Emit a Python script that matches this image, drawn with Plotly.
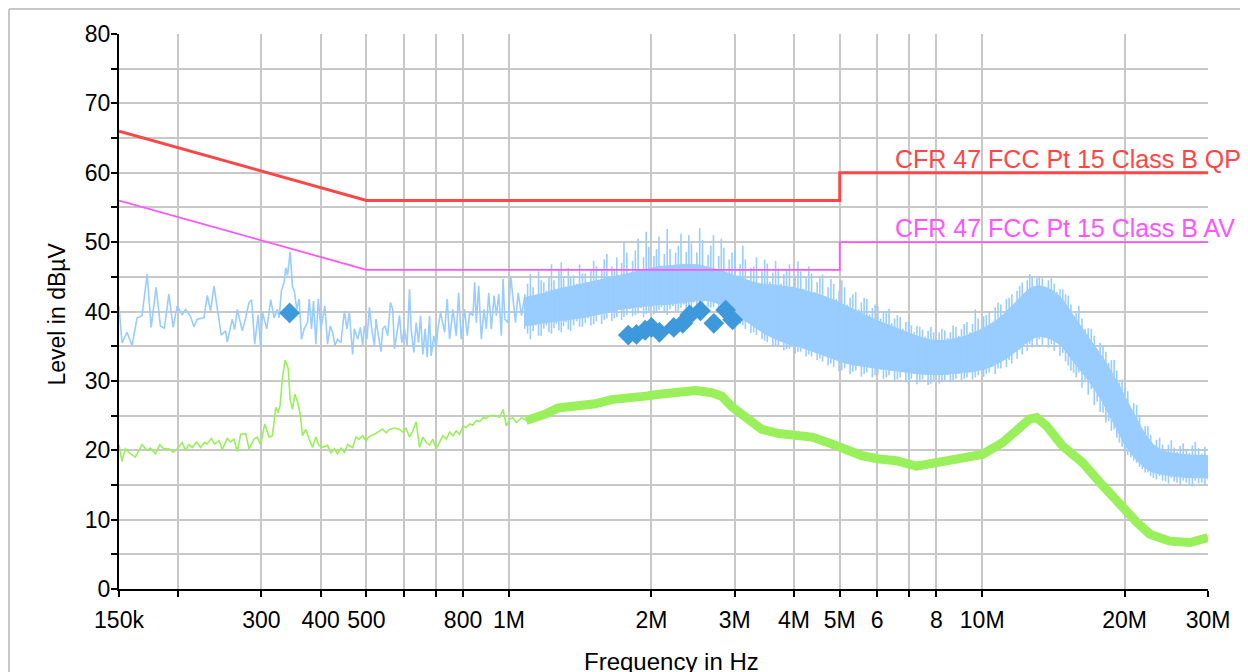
import plotly.graph_objects as go

# ---------------- data ----------------
# Peak detector trace, low-frequency part (kHz, dBuV)
pk_khz = [150, 152.2, 156.0, 159.8, 163.8, 167.8, 172.0, 175.4, 179.7, 183.5,
          187.1, 191.2, 195.2, 199.1, 204, 207.3, 212.4, 216, 219.5, 226.8,
          230.4, 234.2, 238.1, 246.7, 252, 254, 260.3, 263.3, 266.7, 273.3,
          277.8, 282.4, 286, 290.3, 295.1, 298.9, 301.4, 307.8, 313.8, 319,
          324.2, 327, 330.6, 335, 337.6, 340.5, 345, 348.9, 351.8, 356.3,
          360.4, 364.5, 369.3, 375.3, 378.5, 382.7, 386.5, 390.9, 395.5, 400.5,
          403.8, 408.4, 413.8, 419.3, 424, 428.8, 434.5, 441.6, 449, 454.7,
          460, 467.5, 471.4, 479.1, 485.4, 490.9, 494.9, 501.3, 507.2, 512.9,
          519.7, 523.8, 529.9, 536.7, 541.2, 547.3, 554.6, 561.9, 568.2, 573,
          580.3, 587.1, 593.7, 601.6, 609.3, 616.5, 621.3, 629.6, 636.7, 644.2,
          650.4, 657.8, 665.2, 671.7, 679.6, 685, 694, 701.9, 707.7, 717.1,
          731.3, 740.6, 749.3, 761.5, 773.8, 782.9, 792.9, 806.2, 816.5, 826.1,
          839.5, 846.5, 853.2, 863.2, 874.2, 885.9, 895.8, 906.4, 918, 930.2,
          940.6, 951.7, 963.9, 971.9, 980, 995.9, 1009, 1020, 1032, 1046,
          1063, 1080]
pk_db = [40.8, 35.5, 37.0, 35.1, 39.1, 39.4, 45.4, 37.7, 43.5, 37.9,
         37.6, 42.5, 37.7, 40.8, 39.5, 40.3, 39.3, 37.8, 38.9, 39.1,
         42.3, 40.1, 43.7, 36.6, 37.2, 35.6, 38.9, 37.4, 40.3, 37.2,
         39.1, 41.3, 41.7, 35.3, 39.5, 34.8, 39.9, 37.5, 41.7, 39.1,
         40.3, 39.1, 43.0, 44.2, 46.3, 45.2, 48.6, 43.5, 43.0, 40.3,
         41.8, 36.0, 37.5, 38.4, 41.8, 37.5, 41.5, 35.3, 41.8, 37.5,
         38.9, 40.8, 35.3, 37.9, 37.0, 35.1, 36.0, 35.5, 40.1, 37.5,
         39.9, 33.8, 37.5, 36.0, 37.7, 35.1, 37.9, 36.0, 40.6, 37.5,
         35.1, 38.9, 36.5, 34.2, 37.5, 37.9, 36.5, 41.3, 40.3, 34.6,
         37.0, 39.4, 35.5, 37.5, 35.1, 43.2, 37.5, 34.1, 38.4, 35.5,
         39.4, 33.8, 37.5, 33.4, 39.4, 33.6, 36.5, 34.8, 37.5, 39.9,
         37.0, 41.8, 36.0, 40.3, 36.5, 42.7, 36.0, 40.3, 36.5, 39.9,
         39.4, 44.2, 38.4, 43.7, 36.0, 40.3, 37.5, 42.7, 37.5, 42.3,
         39.4, 42.5, 36.5, 44.7, 38.9, 38.4, 45.1, 42.3, 38.4, 42.7,
         39.4, 42.3]

# Peak detector trace, dense part (MHz, dBuV): solid core and spike extents
band_mhz = [1.08, 1.11, 1.14, 1.17, 1.20, 1.23, 1.26, 1.29, 1.32, 1.35,
            1.39, 1.43, 1.47, 1.51, 1.55, 1.59, 1.63, 1.67, 1.71, 1.75,
            1.80, 1.85, 1.90, 1.95, 2.00, 2.05, 2.10, 2.16, 2.22, 2.28,
            2.34, 2.40, 2.46, 2.53, 2.60, 2.67, 2.74, 2.81, 2.88, 2.96,
            3.04, 3.12, 3.20, 3.29, 3.38, 3.47, 3.56, 3.66, 3.76, 3.86,
            3.97, 4.08, 4.19, 4.30, 4.42, 4.54, 4.66, 4.79, 4.92, 5.05,
            5.19, 5.33, 5.48, 5.63, 5.78, 5.94, 6.10, 6.27, 6.44, 6.62,
            6.80, 6.99, 7.18, 7.38, 7.58, 7.79, 8.00, 8.22, 8.45, 8.68,
            8.92, 9.16, 9.41, 9.67, 9.94, 10.2, 10.5, 10.8, 11.1, 11.4,
            11.7, 12.0, 12.3, 12.6, 12.9, 13.2, 13.6, 14.0, 14.4, 14.8,
            15.2, 15.6, 16.0, 16.5, 17.0, 17.5, 18.0, 18.5, 19.0, 19.5,
            20.0, 20.6, 21.2, 21.8, 22.4, 23.0, 23.7, 24.4, 25.1, 25.8,
            26.6, 27.4, 28.2, 29.1, 30.0]
band_top = [42.0, 42.2, 42.3, 42.5, 42.7, 43.0, 43.2, 43.3, 43.5, 43.6,
            43.8, 44.0, 44.2, 44.3, 44.5, 44.7, 44.9, 45.0, 45.2, 45.3,
            45.5, 45.7, 45.9, 46.1, 46.3, 46.4, 46.5, 46.6, 46.7, 46.8,
            46.8, 46.8, 46.8, 46.7, 46.5, 46.3, 46.1, 45.9, 45.6, 45.3,
            45.0, 44.7, 44.4, 44.2, 44.0, 44.0, 43.9, 43.8, 43.7, 43.6,
            43.5, 43.3, 43.1, 42.9, 42.6, 42.4, 42.1, 41.8, 41.5, 41.1,
            40.7, 40.3, 39.9, 39.5, 39.1, 38.8, 38.5, 38.2, 37.8, 37.5,
            37.2, 36.9, 36.6, 36.3, 36.1, 35.9, 35.8, 35.8, 35.9, 36.0,
            36.2, 36.4, 36.7, 37.0, 37.4, 37.8, 38.3, 38.9, 39.6, 40.4,
            41.2, 42.0, 42.7, 43.3, 43.6, 43.7, 43.5, 43.1, 42.5, 41.7,
            40.6, 39.4, 38.3, 37.0, 35.8, 34.5, 33.3, 32.0, 30.7, 29.3,
            27.8, 26.2, 24.5, 23.0, 21.8, 20.8, 20.2, 19.8, 19.6, 19.5,
            19.4, 19.3, 19.3, 19.3, 19.2]
band_bot = [38.0, 38.0, 38.2, 38.3, 38.4, 38.5, 38.6, 38.7, 38.8, 38.9,
            39.0, 39.1, 39.3, 39.4, 39.6, 39.8, 40.0, 40.1, 40.3, 40.4,
            40.5, 40.6, 40.7, 40.8, 40.9, 41.0, 41.0, 41.0, 41.1, 41.2,
            41.3, 41.4, 41.5, 41.6, 41.6, 41.5, 41.3, 41.0, 40.6, 40.1,
            39.5, 38.9, 38.3, 37.8, 37.3, 36.8, 36.4, 36.0, 35.7, 35.4,
            35.2, 35.0, 34.8, 34.5, 34.2, 33.9, 33.6, 33.3, 33.0, 32.7,
            32.5, 32.3, 32.1, 32.0, 31.9, 31.8, 31.7, 31.6, 31.5, 31.4,
            31.3, 31.2, 31.1, 31.0, 31.0, 30.9, 30.9, 30.9, 31.0, 31.0,
            31.1, 31.2, 31.3, 31.4, 31.6, 31.8, 32.1, 32.5, 33.0, 33.5,
            34.1, 34.7, 35.3, 35.8, 36.2, 36.4, 36.3, 36.0, 35.5, 34.8,
            33.8, 32.8, 31.8, 30.7, 29.5, 28.2, 26.8, 25.3, 23.8, 22.3,
            20.8, 19.6, 18.6, 17.8, 17.2, 16.8, 16.6, 16.4, 16.3, 16.2,
            16.1, 16.0, 16.0, 16.0, 16.0]
band_hi = [42.5, 45.4, 42.0, 44.5, 43.0, 46.8, 43.2, 47.1, 43.5, 45.0,
           44.0, 45.5, 44.2, 47.3, 44.5, 47.5, 45.0, 46.0, 45.2, 50.0,
           45.5, 48.8, 45.8, 51.5, 46.0, 49.0, 46.2, 51.9, 46.5, 49.5,
           46.5, 51.0, 46.5, 52.0, 46.2, 49.5, 46.0, 50.5, 45.8, 48.5,
           45.2, 49.5, 44.5, 46.5, 44.0, 47.5, 44.3, 47.3, 44.0, 46.0,
           43.6, 47.2, 43.3, 46.5, 42.8, 45.0, 42.2, 44.7, 41.8, 44.5,
           41.0, 42.5, 40.3, 42.0, 39.6, 41.0, 39.0, 40.0, 38.3, 39.5,
           37.5, 38.5, 37.0, 37.8, 36.4, 37.8, 36.0, 37.5, 36.2, 38.0,
           36.5, 38.2, 37.0, 40.3, 37.5, 39.5, 38.3, 41.3, 39.5, 42.0,
           41.0, 43.7, 42.5, 45.4, 43.5, 45.1, 43.5, 44.8, 42.8, 43.2,
           42.3, 39.4, 40.8, 37.5, 37.5, 34.6, 35.0, 32.6, 33.0, 29.8,
           29.0, 25.9, 26.5, 23.0, 23.5, 20.6, 21.8, 20.0, 21.5, 19.8,
           21.0, 19.6, 21.2, 19.5, 19.2]
band_lo = [37.5, 36.0, 38.0, 36.5, 38.0, 36.8, 38.2, 37.0, 38.5, 37.2,
           38.6, 37.8, 39.0, 38.2, 39.6, 38.8, 40.0, 39.0, 40.3, 39.2,
           40.3, 39.5, 40.5, 39.6, 40.6, 39.8, 40.6, 39.5, 40.8, 40.0,
           41.0, 40.2, 41.3, 40.5, 41.5, 40.6, 41.3, 40.0, 40.8, 39.5,
           40.0, 38.0, 38.6, 37.0, 37.5, 35.8, 36.5, 35.0, 35.8, 34.6,
           35.3, 34.2, 35.0, 33.8, 34.5, 33.2, 34.0, 32.5, 33.2, 31.5,
           32.5, 31.3, 32.2, 31.0, 32.0, 30.8, 31.6, 30.5, 31.5, 30.2,
           31.3, 29.5, 31.0, 29.8, 30.8, 29.6, 30.6, 29.8, 30.8, 30.0,
           31.0, 30.3, 31.2, 30.5, 31.5, 31.0, 32.0, 31.8, 33.0, 33.0,
           34.3, 34.5, 35.5, 35.3, 36.3, 36.0, 36.3, 35.3, 35.5, 34.0,
           32.2, 31.2, 31.2, 29.8, 28.8, 27.0, 25.4, 24.2, 23.0, 21.1,
           19.7, 19.0, 18.2, 17.3, 16.8, 16.0, 16.3, 15.5, 16.0, 15.3,
           15.6, 15.0, 15.6, 15.3, 15.8]

# Peak detector trace, dense part: sweep points in between (MHz, max, min dBuV)
band2_mhz = [1.095, 1.125, 1.155, 1.185, 1.215, 1.245, 1.275, 1.305, 1.335, 1.37,
             1.41, 1.45, 1.49, 1.53, 1.57, 1.61, 1.65, 1.69, 1.73, 1.775,
             1.825, 1.875, 1.925, 1.975, 2.025, 2.075, 2.13, 2.19, 2.25, 2.31,
             2.37, 2.43, 2.495, 2.565, 2.635, 2.705, 2.775, 2.845, 2.92, 3.0,
             3.08, 3.16, 3.245, 3.335, 3.425, 3.515, 3.61, 3.71, 3.81, 3.915,
             4.025, 4.135, 4.245, 4.36, 4.48, 4.6, 4.725, 4.855, 4.985, 5.12,
             5.26, 5.405, 5.555, 5.705, 5.86, 6.02, 6.185, 6.355, 6.53, 6.71,
             6.895, 7.085, 7.28, 7.48, 7.685, 7.895, 8.11, 8.335, 8.565, 8.8,
             9.04, 9.285, 9.54, 9.805, 10.07, 10.35, 10.65, 10.95, 11.25, 11.55,
             11.85, 12.15, 12.45, 12.75, 13.05, 13.4, 13.8, 14.2, 14.6, 15.0,
             15.4, 15.8, 16.25, 16.75, 17.25, 17.75, 18.25, 18.75, 19.25, 19.75,
             20.3, 20.9, 21.5, 22.1, 22.7, 23.35, 24.05, 24.75, 25.45, 26.2,
             27.0, 27.8, 28.65, 29.55]
band2_hi = [44.0, 43.5, 45.8, 44.2, 45.0, 44.5, 46.0, 44.8, 46.3, 45.2,
            46.8, 45.5, 46.0, 46.5, 46.0, 48.3, 46.5, 47.8, 47.0, 48.5,
            47.3, 50.5, 47.8, 49.3, 48.0, 50.8, 48.3, 49.0, 48.5, 51.2,
            48.6, 49.8, 48.5, 50.3, 48.2, 51.0, 48.0, 49.2, 47.5, 48.8,
            46.8, 47.5, 46.3, 47.8, 45.8, 46.9, 45.6, 46.2, 45.4, 46.8,
            45.2, 45.8, 44.8, 45.5, 44.2, 45.3, 43.5, 44.0, 43.0, 43.5,
            42.0, 42.8, 41.3, 41.8, 40.5, 40.8, 39.8, 40.4, 39.0, 39.2,
            38.5, 38.0, 37.9, 37.4, 37.2, 37.0, 37.0, 37.3, 37.0, 37.8,
            37.5, 38.5, 38.2, 39.0, 39.3, 40.0, 40.6, 41.0, 41.8, 42.5,
            43.0, 44.2, 44.5, 45.0, 44.8, 44.8, 44.5, 44.0, 43.2, 42.5,
            41.0, 39.8, 39.0, 37.6, 36.5, 35.5, 34.2, 33.0, 31.5, 30.2,
            28.5, 26.8, 25.0, 23.5, 22.2, 21.5, 20.8, 20.8, 20.4, 20.6,
            20.2, 20.7, 20.3, 20.5]
band2_lo = [36.8, 37.2, 36.5, 37.5, 37.0, 37.6, 37.3, 37.9, 37.4, 38.0,
            37.8, 38.3, 38.0, 38.6, 38.2, 39.0, 38.6, 39.2, 38.8, 39.5,
            39.3, 39.7, 39.2, 40.0, 39.6, 40.2, 39.8, 40.3, 40.0, 40.5,
            40.3, 40.7, 40.4, 40.9, 40.7, 40.6, 40.3, 40.2, 39.6, 39.0,
            38.2, 37.5, 36.9, 36.6, 36.0, 35.6, 35.0, 34.9, 34.4, 34.6,
            34.0, 34.2, 33.5, 33.5, 33.0, 32.8, 32.2, 32.0, 31.4, 31.8,
            31.0, 31.5, 30.6, 31.2, 30.5, 30.9, 30.3, 30.8, 29.9, 30.5,
            29.8, 30.3, 29.5, 30.2, 29.4, 30.0, 29.6, 30.1, 29.8, 30.3,
            30.0, 30.5, 30.2, 30.8, 30.6, 31.2, 31.0, 31.8, 32.0, 32.5,
            33.2, 33.8, 34.3, 34.8, 35.0, 35.2, 34.8, 34.3, 33.6, 32.8,
            31.5, 30.5, 29.0, 28.0, 26.5, 25.5, 24.0, 22.8, 21.8, 20.5,
            19.3, 18.5, 17.6, 16.8, 16.3, 15.8, 15.6, 15.2, 15.5, 15.1,
            15.3, 14.8, 15.2, 15.0]

# Average detector trace, low-frequency part (kHz, dBuV)
av_khz = [150, 152.2, 154.7, 158.5, 162.4, 167.8, 172.0, 174.8, 179.1, 183,
          186.6, 191.2, 195.2, 199.1, 204, 207.3, 210.8, 214.2, 218.7, 223,
          227.4, 230.4, 235, 238.8, 244, 247.9, 254, 258.2, 262.5, 266.7,
          271.1, 277.8, 282.4, 289.4, 294.1, 298.9, 304.8, 311.4, 316.4, 321.6,
          325.4, 328.5, 332.3, 336.7, 341.6, 345, 348.9, 352.8, 357.5, 362.2,
          366.3, 372.2, 378.5, 384.6, 390.9, 396, 403.8, 413.8, 420.5, 427.6,
          434.5, 441.6, 449, 456.2, 467.5, 475.1, 483, 490.9, 498.8, 507.2,
          519.7, 532.5, 541.2, 550, 559.1, 573, 587.1, 596.7, 606.3, 616.5,
          626.5, 636.7, 647.3, 657.8, 668.5, 679.6, 690.7, 701.9, 713.7, 725.3,
          737, 749.3, 761.5, 773.8, 786.8, 799.6, 812.5, 826.1, 839.5, 853.2,
          867.4, 881.5, 895.8, 910.8, 933.4, 956.4, 971.9, 987.7, 1004, 1020,
          1037, 1063, 1089]
av_db = [20.8, 18.4, 20.2, 19.5, 19.0, 20.8, 19.95, 20.3, 19.5, 20.8,
         20.2, 20.2, 19.7, 20.2, 21.1, 20.0, 20.8, 20.4, 21.2, 20.4,
         21.1, 20.9, 21.7, 20.9, 21.4, 20.1, 21.7, 21.2, 21.6, 19.8,
         22.3, 22.4, 20.2, 21.6, 21.9, 20.75, 23.8, 21.9, 22.1, 26.2,
         25.4, 26.5, 30.5, 33.0, 31.8, 27.3, 25.9, 28.1, 27.0, 25.2,
         22.1, 23.0, 21.6, 20.4, 21.9, 20.75, 20.4, 20.7, 19.6, 20.2,
         19.5, 20.3, 19.7, 20.8, 20.4, 21.9, 21.6, 22.1, 21.4, 22.0,
         22.3, 22.7, 23.05, 22.5, 23.0, 23.2, 23.0, 22.6, 23.15, 21.9,
         22.8, 24.1, 20.4, 21.9, 21.15, 20.75, 21.6, 20.2, 21.15, 22.1,
         21.6, 22.6, 22.1, 22.8, 22.3, 23.4, 23.3, 23.8, 23.6, 24.3,
         24.15, 24.7, 24.6, 25.0, 25.0, 24.75, 25.9, 23.5, 24.5, 24.7,
         24.0, 24.7, 24.3]

# Average detector trace, dense part (MHz, dBuV, centre of the band)
av2_mhz = [1.087, 1.153, 1.193, 1.271, 1.401, 1.522, 1.646, 1.788, 1.943, 2.101,
           2.283, 2.480, 2.682, 2.816, 2.956, 3.165, 3.422, 3.719, 4.040, 4.368,
           4.816, 5.157, 5.576, 6.058, 6.580, 7.254, 8.0, 9.08, 10.01, 11.04,
           11.82, 12.59, 13.03, 13.68, 14.79, 16.31, 17.98, 19.82, 21.22, 22.61,
           24.93, 27.49, 30.0]
av2_db = [24.3, 24.8, 25.2, 26.1, 26.3, 26.7, 27.3, 27.4, 27.8, 28.1,
          28.4, 28.6, 28.3, 27.8, 26.3, 24.7, 23.0, 22.4, 22.1, 21.9,
          20.9, 20.2, 19.2, 18.75, 18.5, 17.7, 18.2, 18.8, 19.4, 21.1,
          22.7, 24.5, 24.7, 23.5, 20.6, 18.2, 14.9, 11.5, 9.6, 7.9,
          6.9, 6.7, 7.4]

# Quasi-peak final measurements (MHz, dBuV)
qp_mhz = [0.344, 1.787, 1.86, 1.94, 2.0, 2.08, 2.23, 2.33, 2.41, 2.54, 2.71, 2.87, 2.97]
qp_db = [39.8, 36.6, 36.7, 37.3, 37.7, 37.0, 37.7, 38.3, 39.5, 40.1, 38.3, 40.2, 38.8]

# Limit lines (MHz, dBuV)
lim_mhz = [0.15, 0.5, 5.0, 5.0, 30.0]
lim_qp = [66, 56, 56, 60, 60]
lim_av = [56, 46, 46, 50, 50]
lim_qp_name = "CFR 47 FCC Pt 15 Class B QP"
lim_av_name = "CFR 47 FCC Pt 15 Class B AV"

x_tickvals_hz = [150e3, 200e3, 300e3, 400e3, 500e3, 600e3, 700e3, 800e3, 1e6,
                 2e6, 3e6, 4e6, 5e6, 6e6, 7e6, 8e6, 10e6, 20e6, 30e6]
x_ticktext = ["150k", "", "300", "400", "500", "", "", "800", "1M",
              "2M", "3M", "4M", "5M", "6", "", "8", "10M", "20M", "30M"]
y_tickvals = list(range(0, 81, 5))
y_ticktext = [str(v) if v % 10 == 0 else "" for v in y_tickvals]

# ---------------- figure ----------------
PEAK_C = "#99ccff"
AVG_C = "#99f05a"
QP_C = "#3d98dc"
RED = "#ff4646"
MAG = "#ff55ff"
FONT = "Liberation Sans, Arial, sans-serif"

fig = go.Figure()

# solid core of the dense peak sweep
core_x = [f * 1e6 for f in band_mhz] + [f * 1e6 for f in band_mhz[::-1]]
core_y = band_top + band_bot[::-1]
fig.add_trace(go.Scatter(x=core_x, y=core_y, mode="lines", fill="toself",
                         fillcolor=PEAK_C, line=dict(color=PEAK_C, width=1),
                         hoverinfo="skip", showlegend=False))
# every sweep point drawn as its min..max excursion
sx, sy = [], []
for f, h, l in list(zip(band_mhz, band_hi, band_lo)) + list(zip(band2_mhz, band2_hi, band2_lo)):
    sx += [f * 1e6, f * 1e6, None]
    sy += [l, h, None]
fig.add_trace(go.Scatter(x=sx, y=sy, mode="lines", connectgaps=False,
                         line=dict(color=PEAK_C, width=1.6),
                         hoverinfo="skip", showlegend=False))
fig.add_trace(go.Scatter(x=[f * 1e3 for f in pk_khz], y=pk_db, mode="lines",
                         line=dict(color=PEAK_C, width=1.6), showlegend=False))
fig.add_trace(go.Scatter(x=[f * 1e3 for f in av_khz], y=av_db, mode="lines",
                         line=dict(color=AVG_C, width=1.6), showlegend=False))
fig.add_trace(go.Scatter(x=[f * 1e6 for f in av2_mhz], y=av2_db, mode="lines",
                         line=dict(color=AVG_C, width=9), showlegend=False))
fig.add_trace(go.Scatter(x=[f * 1e6 for f in lim_mhz], y=lim_av, mode="lines",
                         line=dict(color=MAG, width=1.8), showlegend=False))
fig.add_trace(go.Scatter(x=[f * 1e6 for f in lim_mhz], y=lim_qp, mode="lines",
                         line=dict(color=RED, width=3), showlegend=False))
fig.add_trace(go.Scatter(x=[f * 1e6 for f in qp_mhz], y=qp_db, mode="markers",
                         marker=dict(symbol="diamond", size=16, color=QP_C,
                                     line=dict(width=0)),
                         showlegend=False))

# page has an 8 px body margin; figure div starts at (8, 8)
OFF = 8
W, H = 1240, 664
L, R, T, B = 111, 40, 26, 83
pw, ph = W - L - R, H - T - B


def px(x_page):
    return (x_page - OFF - L) / pw


def py(y_page):
    return (H - B - (y_page - OFF)) / ph


fig.update_layout(
    width=W, height=H,
    margin=dict(l=L, r=R, t=T, b=B, autoexpand=False),
    paper_bgcolor="white", plot_bgcolor="white",
    font=dict(family=FONT, size=23, color="black"),
    xaxis=dict(type="log", range=[5.176091259, 7.477121255],
               tickvals=x_tickvals_hz, ticktext=x_ticktext,
               showgrid=True, gridcolor="#c8c8c8", gridwidth=1.5,
               ticks="outside", ticklen=6, tickwidth=1.5, tickcolor="black",
               showline=True, linecolor="black", linewidth=2,
               zeroline=False, tickfont=dict(size=23), fixedrange=True,
               ticklabelstandoff=3),
    yaxis=dict(range=[0, 80], tickvals=y_tickvals, ticktext=y_ticktext,
               showgrid=True, gridcolor="#c8c8c8", gridwidth=1.5,
               ticks="outside", ticklen=6, tickwidth=1.5, tickcolor="black",
               showline=True, linecolor="black", linewidth=2,
               zeroline=False, tickfont=dict(size=23), fixedrange=True,
               ticklabelstandoff=-4),
    shapes=[
        dict(type="line", xref="paper", yref="paper", x0=px(9), x1=px(1260),
             y0=py(9), y1=py(9), line=dict(color="#c8c8c8", width=2)),
        dict(type="line", xref="paper", yref="paper", x0=px(9), x1=px(9),
             y0=py(9), y1=py(690), line=dict(color="#c8c8c8", width=2)),
    ],
    annotations=[
        dict(text=lim_qp_name, xref="paper", yref="paper", x=px(893),
             y=py(159), xanchor="left", yanchor="middle", showarrow=False,
             font=dict(size=25, color=RED, family=FONT)),
        dict(text=lim_av_name, xref="paper", yref="paper", x=px(893),
             y=py(227.5), xanchor="left", yanchor="middle", showarrow=False,
             font=dict(size=25, color=MAG, family=FONT)),
        dict(text="Level in dBµV", xref="paper", yref="paper", x=px(57),
             y=py(314.5), xanchor="center", yanchor="middle", textangle=-90,
             showarrow=False, font=dict(size=23, color="black", family=FONT)),
        dict(text="Frequency in Hz", xref="paper", yref="paper", x=px(671),
             y=py(661), xanchor="center", yanchor="middle", showarrow=False,
             font=dict(size=24, color="black", family=FONT)),
    ],
)

fig.write_html("out.html")
